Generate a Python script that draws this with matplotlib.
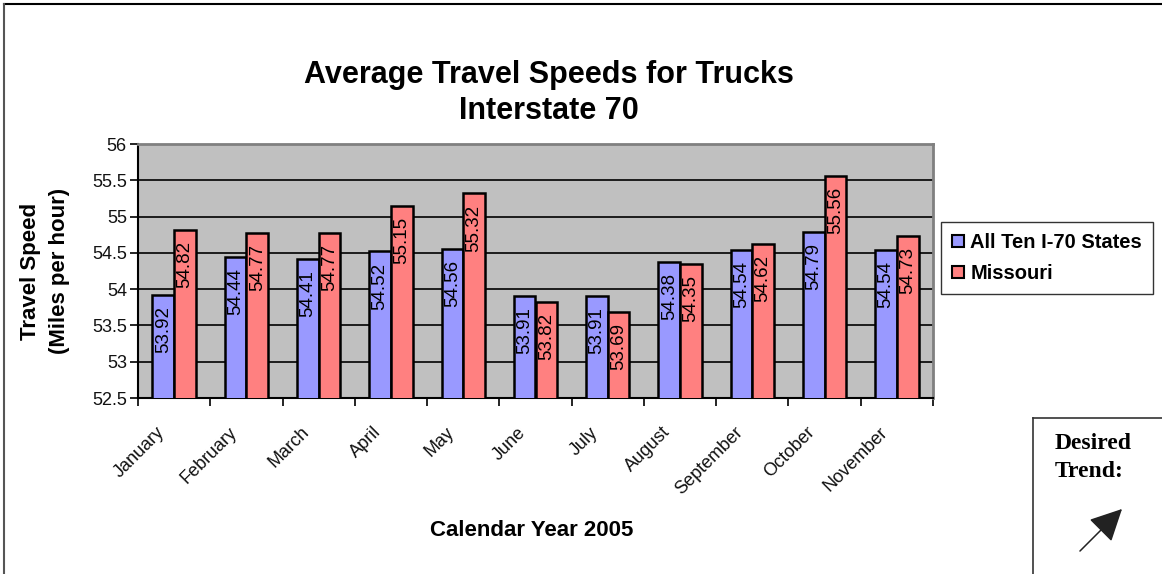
import matplotlib
matplotlib.use("Agg")
import matplotlib.pyplot as plt
from matplotlib.patches import Rectangle, FancyArrowPatch
from matplotlib.lines import Line2D
from matplotlib.transforms import ScaledTranslation
import numpy as np

months = ["January", "February", "March", "April", "May", "June", "July",
          "August", "September", "October", "November"]
all_states = [53.92, 54.44, 54.41, 54.52, 54.56, 53.91, 53.91, 54.38, 54.54, 54.79, 54.54]
missouri = [54.82, 54.77, 54.77, 55.15, 55.32, 53.82, 53.69, 54.35, 54.62, 55.56, 54.73]
series_names = ["All Ten I-70 States", "Missouri"]
yticks = [52.5, 53, 53.5, 54, 54.5, 55, 55.5, 56]

plt.rcParams['font.family'] = ['Liberation Sans', 'DejaVu Sans']

W, H = 1162, 574
fig = plt.figure(figsize=(W / 100, H / 100), dpi=100)

def fx(px):
    return px / W

def fy(py):
    return 1 - py / H

ax = fig.add_axes([fx(138), fy(398), fx(933) - fx(138), fy(144) - fy(398)])
ax.set_facecolor("#C0C0C0")

x = np.arange(len(months))
bw = 0.3
c_blue = "#9999FF"
c_red = "#FF8080"
b1 = ax.bar(x - bw / 2, all_states, bw, color=c_blue, edgecolor="black", linewidth=1.8, zorder=3)
b2 = ax.bar(x + bw / 2, missouri, bw, color=c_red, edgecolor="black", linewidth=1.8, zorder=3)

ax.set_ylim(52.5, 56)
ax.set_xlim(-0.5, len(months) - 0.5)
ax.set_yticks(yticks)
ax.set_yticklabels([f"{v:g}" for v in yticks], fontsize=13, color="#111111")
ax.yaxis.grid(True, color="black", linewidth=1.2, zorder=1)
ax.set_axisbelow(True)

ax.set_xticks(np.arange(len(months) + 1) - 0.5)
ax.set_xticklabels([])
ax.set_xticks(x, minor=True)
ax.set_xticklabels(months, minor=True, rotation=45, ha="right", va="center",
                   rotation_mode="anchor", fontsize=13, color="#111111")
ax.tick_params(axis="x", which="minor", length=0, pad=20)
ax.tick_params(axis="x", which="major", length=6, width=1.2, direction="out")
ax.tick_params(axis="y", length=6, width=1.2, direction="out", pad=2)
shift = ScaledTranslation(-0.12, -0.04, fig.dpi_scale_trans)
for lab in ax.get_xticklabels(minor=True):
    lab.set_transform(lab.get_transform() + shift)

for s in ["left", "bottom"]:
    ax.spines[s].set_color("black")
    ax.spines[s].set_linewidth(1.5)
for s in ["top", "right"]:
    ax.spines[s].set_color("#808080")
    ax.spines[s].set_linewidth(2)

for bars, vals in ((b1, all_states), (b2, missouri)):
    for rect, v in zip(bars, vals):
        ax.annotate(f"{v:.2f}", xy=(rect.get_x() + rect.get_width() / 2, v),
                    xytext=(0, -8), textcoords="offset points",
                    rotation=90, ha="center", va="top", fontsize=13.5, zorder=4)

fig.text(fx(45), fy(271), "Travel Speed\n(Miles per hour)", rotation=90, ha="center", va="center",
         fontsize=16, fontweight="bold", linespacing=1.5)
fig.text(fx(532), fy(530), "Calendar Year 2005", ha="center", va="center",
         fontsize=16, fontweight="bold")

fig.text(fx(549), fy(93), "Average Travel Speeds for Trucks\nInterstate 70", ha="center", va="center",
         fontsize=22, fontweight="bold", linespacing=1.3)

handles = [Rectangle((0, 0), 1, 1, facecolor=c_blue, edgecolor="black", linewidth=1.5),
           Rectangle((0, 0), 1, 1, facecolor=c_red, edgecolor="black", linewidth=1.5)]
leg = fig.legend(handles, series_names, loc="upper left",
                 bbox_to_anchor=(fx(941), fy(222)), frameon=True, fancybox=False,
                 edgecolor="black", prop={"weight": "bold", "size": 14.5},
                 handlelength=0.6, handleheight=0.6, handletextpad=0.3,
                 borderpad=0.55, labelspacing=0.6, borderaxespad=0)
leg.get_frame().set_linewidth(1.0)

# outer chart border
fig.add_artist(Line2D([fx(4), fx(1162)], [fy(4), fy(4)], color="black", linewidth=1.5))
fig.add_artist(Line2D([fx(4), fx(4)], [fy(4), fy(574)], color="#555555", linewidth=1.5))

# desired trend box
fig.add_artist(Line2D([fx(1033), fx(1162)], [fy(418), fy(418)], color="#333333", linewidth=1.2))
fig.add_artist(Line2D([fx(1033), fx(1033)], [fy(418), fy(574)], color="#333333", linewidth=1.2))
fig.text(fx(1055), fy(433), "Desired\nTrend:", ha="left", va="top", fontsize=17,
         fontweight="bold", family=["Liberation Serif", "DejaVu Serif"], linespacing=1.45)
arr = FancyArrowPatch((fx(1078), fy(553)), (fx(1124), fy(507)), transform=fig.transFigure,
                      arrowstyle="-|>,head_length=10,head_width=5", mutation_scale=2,
                      color="#222222", linewidth=1.1)
fig.add_artist(arr)

fig.savefig("out.png", dpi=100)
